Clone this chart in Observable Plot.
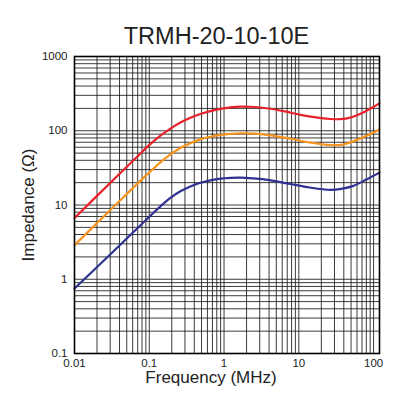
<!DOCTYPE html>
<html>
<head>
<meta charset="utf-8">
<script src="https://cdn.jsdelivr.net/npm/d3@7"></script>
<script src="https://cdn.jsdelivr.net/npm/@observablehq/plot@0.6"></script>
<style>
  html, body { margin: 0; padding: 0; background: #fff; }
  #wrap { width: 420px; height: 420px; position: relative; font-family: "Liberation Sans", Arial, sans-serif; }
  #title { height: 50px; box-sizing: border-box; padding-top: 23px; text-align: center; font-size: 23.5px; line-height: 26px; color: #222; padding-left: 13px; }
  svg { display: block; }
</style>
</head>
<body>
<div id="wrap">
  <div id="title">TRMH-20-10-10E</div>
</div>
<script>
// Frequency (MHz) and impedance (Ω)
const redFreq  = [0.01, 0.03, 0.0763, 0.104, 0.141, 0.192, 0.261, 0.355, 0.483, 0.658, 0.895, 1.22, 1.66, 2.6, 4.17, 6.5, 10.5, 17, 26.5, 35, 44.2, 60, 73.8, 95, 120];
const redZ     = [6.7, 19.8, 49.5, 66.5, 86, 107, 129, 150, 168, 184, 197, 206, 211, 209, 198, 182, 164, 151, 144, 143, 147, 162, 178, 204, 234];

const orangeFreq = [0.01, 0.03, 0.0763, 0.104, 0.141, 0.192, 0.261, 0.355, 0.483, 0.658, 0.895, 1.22, 1.66, 2.6, 4.5, 7.72, 14, 26.5, 37, 49, 65, 81.9, 100, 120];
const orangeZ    = [2.88, 8.5, 21.3, 28.5, 37.5, 48, 58.5, 68, 76.5, 83, 88, 91, 92.5, 91.5, 86, 78, 69.5, 64, 64.5, 69.5, 78, 86, 95, 105];

const blueFreq = [0.01, 0.03, 0.0763, 0.104, 0.141, 0.192, 0.261, 0.355, 0.483, 0.658, 0.895, 1.22, 1.66, 3, 5, 7.72, 14, 26.5, 37, 53.7, 80, 120];
const blueZ    = [0.75, 2.15, 5.35, 7.2, 9.6, 12.5, 15.3, 17.8, 19.9, 21.5, 22.6, 23.2, 23.4, 22.5, 20.8, 19.2, 17.2, 16, 16.5, 18.1, 22, 27.3];

const seriesColors = ["#e8202a", "#f7941d", "#2e3192"];

const xTicks = [0.01, 0.1, 1, 10, 100];
const yTicks = [0.1, 1, 10, 100, 1000];
const xTickLabels = ["0.01", "0.1", "1", "10", "100"];
const yTickLabels = ["0.1", "1", "10", "100", "1000"];
const gridMultipliers = [1, 2, 3, 4, 5, 6, 7, 8, 9];
const xDomain = [0.01, 120];
const yDomain = [0.1, 1000];

const toRows = (fs, zs) => fs.map((f, i) => ({f, z: zs[i]}));
const red = toRows(redFreq, redZ);
const orange = toRows(orangeFreq, orangeZ);
const blue = toRows(blueFreq, blueZ);

const gridX = xTicks.flatMap(d => gridMultipliers.map(m => +(d * m).toPrecision(3))).filter(v => v >= xDomain[0] && v <= xDomain[1]);
const gridY = yTicks.flatMap(d => gridMultipliers.map(m => +(d * m).toPrecision(3))).filter(v => v >= yDomain[0] && v <= yDomain[1]);

const fmtX = d => xTickLabels[xTicks.indexOf(d)];
const fmtY = d => yTickLabels[yTicks.indexOf(d)];

const chart = Plot.plot({
  width: 420,
  height: 370,
  marginLeft: 74,
  marginRight: 41,
  marginTop: 6,
  marginBottom: 67,
  style: {fontFamily: "Liberation Sans, Arial, sans-serif", background: "#fff", color: "#222"},
  x: {type: "log", domain: xDomain},
  y: {type: "log", domain: yDomain},
  marks: [
    Plot.ruleX(gridX, {stroke: "#1a1a1a", strokeWidth: 1, strokeOpacity: 0.85}),
    Plot.ruleY(gridY, {stroke: "#1a1a1a", strokeWidth: 1, strokeOpacity: 0.85}),
    Plot.line(red, {x: "f", y: "z", stroke: seriesColors[0], strokeWidth: 2.2, curve: "catmull-rom"}),
    Plot.line(orange, {x: "f", y: "z", stroke: seriesColors[1], strokeWidth: 2.2, curve: "catmull-rom"}),
    Plot.line(blue, {x: "f", y: "z", stroke: seriesColors[2], strokeWidth: 2.2, curve: "catmull-rom"}),
    Plot.frame({stroke: "#000", strokeWidth: 1.6}),
    Plot.axisX({ticks: xTicks, tickFormat: fmtX, tickSize: 0, tickPadding: 5, fontSize: 11.5, label: null}),
    Plot.axisY({ticks: yTicks, tickFormat: fmtY, tickSize: 0, tickPadding: 7, fontSize: 11.5, label: null}),
    Plot.text(["Frequency (MHz)"], {frameAnchor: "bottom", dy: 29, dx: -16, fontSize: 17, fill: "#222"}),
    Plot.text(["Impedance (Ω)"], {frameAnchor: "left", dx: -46, rotate: -90, textAnchor: "middle", fontSize: 17, fill: "#222"})
  ]
});
document.getElementById("wrap").appendChild(chart);
</script>
</body>
</html>
